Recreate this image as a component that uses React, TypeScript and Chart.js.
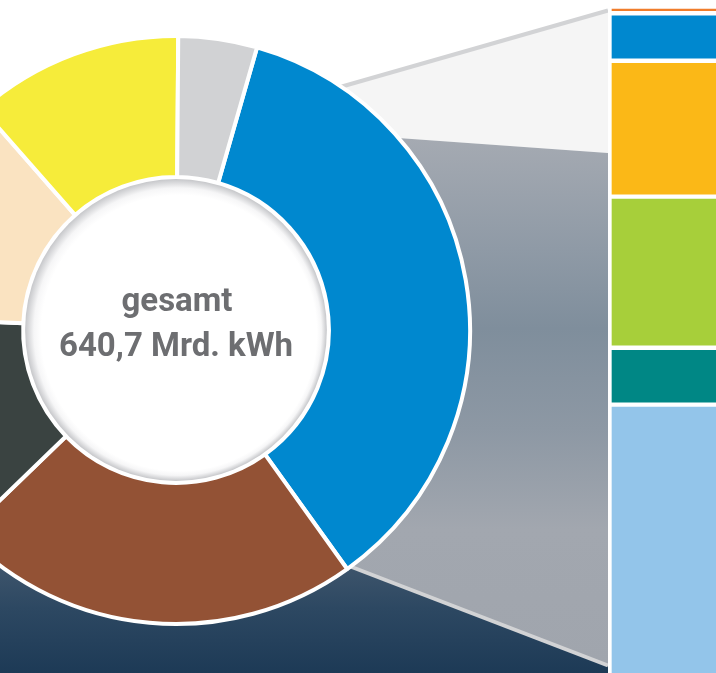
import React, { useEffect, useRef } from 'react';
import { Chart, registerables } from 'chart.js';

Chart.register(...registerables);

// Gross electricity generation (Mrd. kWh), clockwise from the renewables segment
const mixLabels = ['Erneuerbare', 'Braunkohle', 'Steinkohle', 'Erdgas', 'Kernenergie', 'Sonstige'];
const mixValues = [228.5, 145.2, 82.9, 82.2, 74.2, 27.7];
const mixColors = ['#0088cf', '#935235', '#3a4341', '#fae3c1', '#f6ec3a', '#d1d2d4'];

// Breakdown of renewables (Mrd. kWh), stacked bottom to top
const renewLabels = ['Wind an Land', 'Wind auf See', 'Biomasse', 'Photovoltaik', 'Wasserkraft', 'Sonstige'];
const renewValues = [92.0, 19.5, 51.8, 46.6, 16.3, 2.3];
const renewColors = ['#93c5ea', '#008785', '#a7cf3a', '#fbb817', '#0088cf', '#f07d2c'];

const centerLines = ['gesamt', '640,7 Mrd. kWh'];

const renewTotal = renewValues.reduce((a, b) => a + b, 0);

const backgroundPlugin = {
  id: 'bgScene',
  beforeDraw(chart: any) {
    const ctx = chart.ctx as CanvasRenderingContext2D;
    const w = chart.width;
    const h = chart.height;
    ctx.save();
    ctx.fillStyle = '#ffffff';
    ctx.fillRect(0, 0, w, h);

    // lower dark photo area
    const navy = ctx.createLinearGradient(0, 555, 0, 673);
    navy.addColorStop(0, '#42586e');
    navy.addColorStop(0.45, '#2d4862');
    navy.addColorStop(1, '#1d3a56');
    ctx.fillStyle = navy;
    ctx.beginPath();
    ctx.moveTo(0, 431.5);
    ctx.lineTo(608, 665.5);
    ctx.lineTo(608, h);
    ctx.lineTo(0, h);
    ctx.closePath();
    ctx.fill();

    // light band of the funnel
    ctx.fillStyle = '#f5f5f5';
    ctx.beginPath();
    ctx.moveTo(176, 330);
    ctx.lineTo(340, 87);
    ctx.lineTo(608, 11);
    ctx.lineTo(608, 153);
    ctx.lineTo(398, 138);
    ctx.closePath();
    ctx.fill();

    // grey photo funnel
    const g = ctx.createLinearGradient(0, 138, 0, 667);
    g.addColorStop(0, '#a5aab2');
    g.addColorStop(0.21, '#8f9aa6');
    g.addColorStop(0.36, '#7f8e9c');
    g.addColorStop(0.55, '#8d98a4');
    g.addColorStop(0.74, '#a2a7af');
    g.addColorStop(1, '#a0a5ad');
    ctx.fillStyle = g;
    ctx.beginPath();
    ctx.moveTo(176, 330);
    ctx.lineTo(398, 138);
    ctx.lineTo(608, 153);
    ctx.lineTo(608, 665.5);
    ctx.lineTo(346.7, 565);
    ctx.closePath();
    ctx.fill();

    // connector lines
    ctx.strokeStyle = '#d2d3d5';
    ctx.lineWidth = 4;
    ctx.beginPath();
    ctx.moveTo(335, 88.5);
    ctx.lineTo(608, 10.5);
    ctx.stroke();
    ctx.beginPath();
    ctx.moveTo(340, 562.5);
    ctx.lineTo(608, 665.5);
    ctx.stroke();

    // white frame column of the bar
    ctx.fillStyle = '#ffffff';
    ctx.fillRect(608, 0, w - 608, h);
    ctx.restore();
  },
};

const centerPlugin = {
  id: 'centerDisc',
  afterDatasetsDraw(chart: any) {
    const arc: any = chart.getDatasetMeta(0).data[0];
    if (!arc) return;
    const x = arc.x;
    const y = arc.y;
    const ir = arc.innerRadius;
    const ctx = chart.ctx as CanvasRenderingContext2D;
    ctx.save();
    ctx.fillStyle = '#ffffff';
    ctx.beginPath();
    ctx.arc(x, y, ir + 0.5, 0, Math.PI * 2);
    ctx.fill();

    const r = ir - 2;
    const sg = ctx.createRadialGradient(x + 3, y + 3, r - 13, x, y, r);
    sg.addColorStop(0, '#ffffff');
    sg.addColorStop(0.45, '#f6f6f7');
    sg.addColorStop(1, '#c6c7ca');
    ctx.fillStyle = sg;
    ctx.beginPath();
    ctx.arc(x, y, r, 0, Math.PI * 2);
    ctx.fill();

    ctx.fillStyle = '#6d6e71';
    ctx.textAlign = 'center';
    ctx.textBaseline = 'alphabetic';
    ctx.font = 'bold 33px Roboto';
    ctx.fillText(centerLines[0], x + 1, y - 19);
    ctx.fillText(centerLines[1], x, y + 26);
    ctx.restore();
  },
};

export default function App() {
  const barRef = useRef<HTMLCanvasElement>(null);
  const pieRef = useRef<HTMLCanvasElement>(null);

  useEffect(() => {
    const bar = new Chart(barRef.current as HTMLCanvasElement, {
      type: 'bar',
      data: {
        labels: ['Erneuerbare'],
        datasets: renewLabels.map((label, i) => ({
          label,
          data: [renewValues[i]],
          backgroundColor: renewColors[i],
          borderColor: '#ffffff',
          borderWidth: 2.5,
          borderSkipped: i === 0 ? 'bottom' : false,
          categoryPercentage: 1,
          barPercentage: 1,
        })) as any,
      },
      options: {
        animation: false,
        responsive: true,
        maintainAspectRatio: false,
        events: [],
        layout: { padding: { left: 609.5, top: 6.5, right: 0, bottom: 0 } },
        plugins: { legend: { display: false }, tooltip: { enabled: false } },
        scales: {
          x: { stacked: true, display: false },
          y: { stacked: true, display: false, min: 0, max: renewTotal },
        },
      },
      plugins: [backgroundPlugin],
    });

    const pie = new Chart(pieRef.current as HTMLCanvasElement, {
      type: 'doughnut',
      data: {
        labels: mixLabels,
        datasets: [
          {
            data: mixValues,
            backgroundColor: mixColors,
            borderColor: '#ffffff',
            borderWidth: 4,
            hoverOffset: 0,
          },
        ],
      },
      options: {
        animation: false,
        responsive: true,
        maintainAspectRatio: false,
        events: [],
        rotation: 16,
        radius: 294,
        cutout: '52%',
        layout: { padding: 0 },
        plugins: { legend: { display: false }, tooltip: { enabled: false } },
      } as any,
      plugins: [centerPlugin],
    });

    return () => {
      bar.destroy();
      pie.destroy();
    };
  }, []);

  return (
    <div
      style={{
        position: 'fixed',
        left: 0,
        top: 0,
        width: 716,
        height: 673,
        overflow: 'hidden',
        background: '#ffffff',
      }}
    >
      <div style={{ position: 'absolute', left: 0, top: 0, width: 800, height: 673 }}>
        <canvas ref={barRef} />
      </div>
      <div style={{ position: 'absolute', left: -124, top: 30, width: 600, height: 600 }}>
        <canvas ref={pieRef} />
      </div>
    </div>
  );
}
